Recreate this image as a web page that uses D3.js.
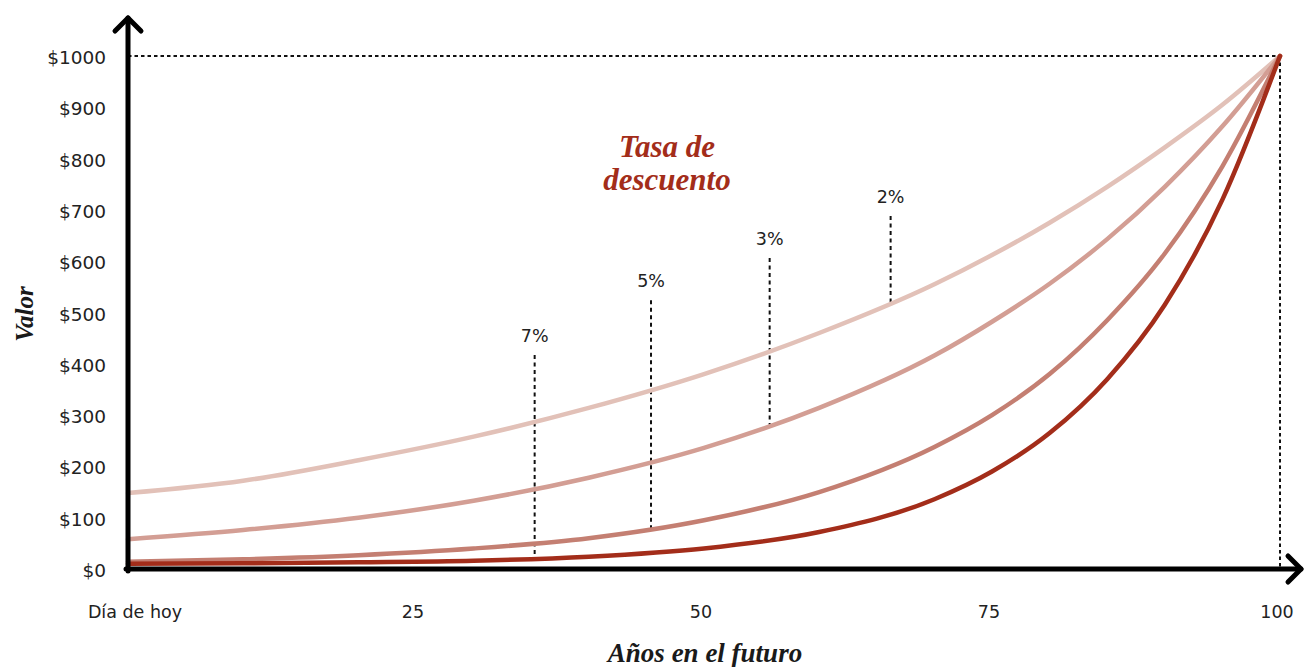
<!DOCTYPE html>
<html>
<head>
<meta charset="utf-8">
<script src="https://cdn.jsdelivr.net/npm/d3@7"></script>
<style>
  html, body { margin: 0; padding: 0; background: #fff; }
  svg { display: block; }
</style>
</head>
<body>
<svg id="chart" width="1305" height="667"></svg>
<script>
// ---- Data ----
const years = [0, 10, 20, 30, 40, 50, 60, 70, 75, 80, 85, 90, 95, 100];
const rate2 = [148, 172, 212, 258, 314, 380, 460, 555, 612, 675, 745, 822, 905, 1000];
const rate3 = [58, 76, 100, 133, 178, 236, 314, 416, 482, 556, 643, 745, 863, 1000];
const rate5 = [14, 19, 27, 40, 60, 95, 150, 238, 300, 380, 485, 615, 785, 1000];
const rate7 = [10, 11, 13, 16, 24, 40, 72, 136, 190, 265, 370, 515, 720, 1000];
const seriesNames = ["2%", "3%", "5%", "7%"];
const seriesColors = ["#e2c1b8", "#d39e94", "#c47f72", "#a32d1a"];

const yTicks = [0, 100, 200, 300, 400, 500, 600, 700, 800, 900, 1000];
const yTickLabels = ["$0", "$100", "$200", "$300", "$400", "$500", "$600", "$700", "$800", "$900", "$1000"];
const xTicks = [0, 25, 50, 75, 100];
const xTickLabels = ["Día de hoy", "25", "50", "75", "100"];

// annotation: year position, top of the dashed leader (value), bottom on the curve (value)
const annoLabels = ["7%", "5%", "3%", "2%"];
const annoYears = [35.3, 45.4, 55.7, 66.2];
const annoTop = [417, 524, 606, 688];
const annoBottom = [17, 72, 281, 520];

const finalValue = 1000;
const finalYear = 100;

// ---- Chart ----
const svg = d3.select("#chart");
const x = d3.scaleLinear().domain([0, 100]).range([128, 1280]);
const y = d3.scaleLinear().domain([0, 1000]).range([569, 56]);

const sans = "'DejaVu Sans', sans-serif";
const serif = "'Liberation Serif', 'DejaVu Serif', serif";

// dotted reference lines
svg.append("line")
  .attr("x1", x(0)).attr("x2", x(finalYear))
  .attr("y1", y(finalValue)).attr("y2", y(finalValue))
  .attr("stroke", "#111").attr("stroke-width", 2).attr("stroke-dasharray", "3.5,3");
svg.append("line")
  .attr("x1", x(finalYear)).attr("x2", x(finalYear))
  .attr("y1", y(finalValue)).attr("y2", y(0))
  .attr("stroke", "#111").attr("stroke-width", 2).attr("stroke-dasharray", "3.5,3");

// annotation leaders + labels
annoLabels.forEach((lab, i) => {
  svg.append("line")
    .attr("x1", x(annoYears[i])).attr("x2", x(annoYears[i]))
    .attr("y1", y(annoTop[i])).attr("y2", y(annoBottom[i]))
    .attr("stroke", "#111").attr("stroke-width", 2).attr("stroke-dasharray", "4,3.5");
  svg.append("text")
    .attr("x", x(annoYears[i])).attr("y", y(annoTop[i]) - 13)
    .attr("text-anchor", "middle")
    .attr("font-family", sans).attr("font-size", 17.5).attr("fill", "#222")
    .text(lab);
});

// curves
const allSeries = [rate2, rate3, rate5, rate7];
const line = d3.line()
  .x((d, i) => x(years[i]))
  .y(d => y(d))
  .curve(d3.curveMonotoneX);
allSeries.forEach((vals, k) => {
  svg.append("path")
    .datum(vals)
    .attr("d", line)
    .attr("fill", "none")
    .attr("stroke", seriesColors[k])
    .attr("stroke-width", 4.5)
    .attr("stroke-linejoin", "round")
    .attr("stroke-linecap", "round")
    .attr("data-name", seriesNames[k]);
});

// axes
const axisG = svg.append("g").attr("stroke", "#000").attr("stroke-width", 5)
  .attr("fill", "none").attr("stroke-linecap", "round").attr("stroke-linejoin", "round");
axisG.append("line").attr("x1", x(0)).attr("x2", x(0)).attr("y1", y(0) + 2).attr("y2", 18);
axisG.append("path").attr("d", `M${x(0) - 13},${31} L${x(0)},${18} L${x(0) + 13},${31}`);
axisG.append("line").attr("x1", x(0) - 2).attr("x2", 1301).attr("y1", y(0)).attr("y2", y(0));
axisG.append("path").attr("d", `M${1288},${y(0) - 13} L${1301},${y(0)} L${1288},${y(0) + 13}`);

// y tick labels
svg.append("g").selectAll("text")
  .data(yTicks)
  .join("text")
  .attr("x", 106)
  .attr("y", d => y(d) + 8)
  .attr("text-anchor", "end")
  .attr("font-family", sans).attr("font-size", 18.5).attr("fill", "#222")
  .text((d, i) => yTickLabels[i]);

// x tick labels
svg.append("g").selectAll("text")
  .data(xTicks)
  .join("text")
  .attr("x", (d, i) => i === 0 ? x(d) + 7 : x(d) - 3)
  .attr("y", 618)
  .attr("text-anchor", "middle")
  .attr("font-family", sans).attr("font-size", 17.5).attr("fill", "#222")
  .text((d, i) => xTickLabels[i]);

// axis titles
svg.append("text")
  .attr("x", 705).attr("y", 662)
  .attr("text-anchor", "middle")
  .attr("font-family", serif).attr("font-style", "italic").attr("font-weight", "bold")
  .attr("font-size", 27).attr("fill", "#1a1a1a")
  .text("Años en el futuro");

svg.append("text")
  .attr("transform", "translate(33,314) rotate(-90)")
  .attr("text-anchor", "middle")
  .attr("font-family", serif).attr("font-style", "italic").attr("font-weight", "bold")
  .attr("font-size", 25).attr("fill", "#1a1a1a")
  .text("Valor");

// legend title
const tt = svg.append("text")
  .attr("text-anchor", "middle")
  .attr("font-family", serif).attr("font-style", "italic").attr("font-weight", "bold")
  .attr("font-size", 31).attr("fill", "#a32d1a");
tt.append("tspan").attr("x", 667).attr("y", 157).text("Tasa de");
tt.append("tspan").attr("x", 667).attr("y", 190).text("descuento");
</script>
</body>
</html>
